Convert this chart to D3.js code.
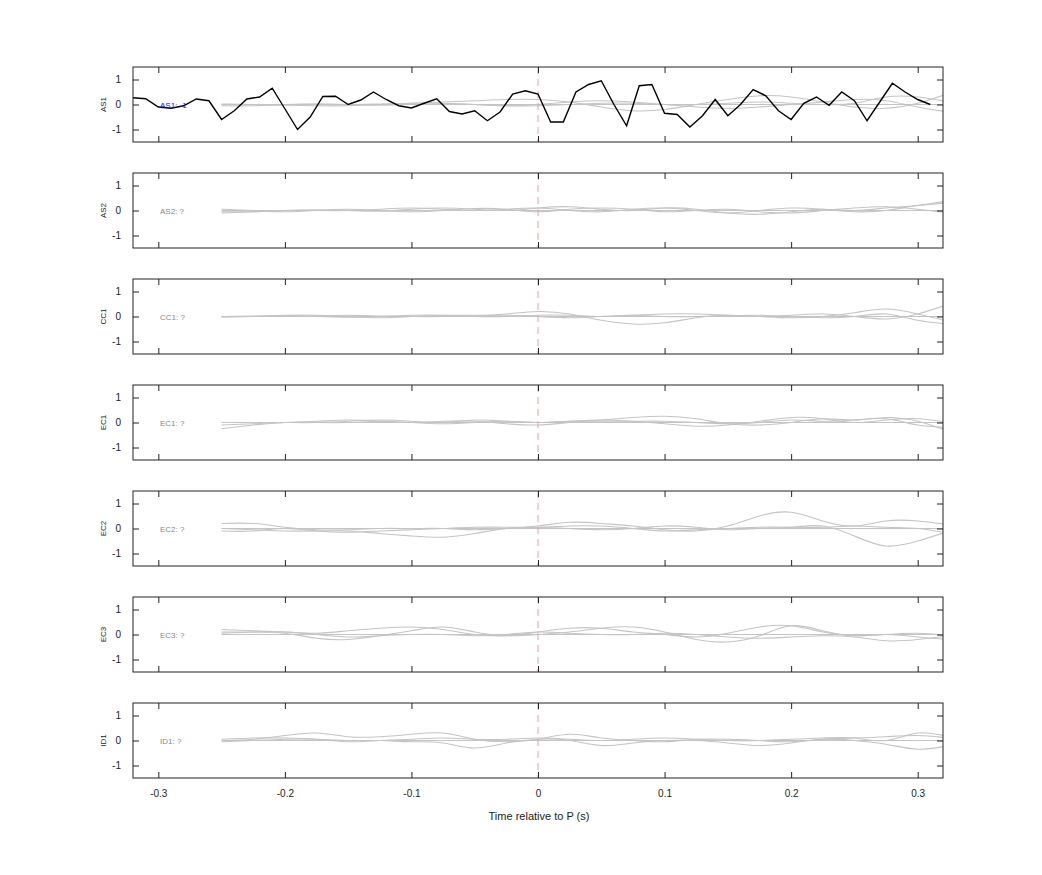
<!DOCTYPE html>
<html><head><meta charset="utf-8">
<script src="https://cdn.jsdelivr.net/npm/d3@7"></script>
<style>body{margin:0;background:#fff}</style></head>
<body><svg id="c" width="1042" height="875"></svg>
<script>
const channels = ["AS1","AS2","CC1","EC1","EC2","EC3","ID1"];
const panelLabels = ["AS1: -1","AS2: ?","CC1: ?","EC1: ?","EC2: ?","EC3: ?","ID1: ?"];
const xTicks = [-0.3,-0.2,-0.1,0,0.1,0.2,0.3];
const yTicks = [-1,0,1];
// black trace for AS1, times -0.32..0.31 step 0.01
const blackTimes = d3.range(-32,32).map(i=>i/100);
const blackValues = [0.27,0.23,-0.1,-0.15,-0.05,0.22,0.15,-0.6,-0.25,0.22,0.3,0.65,-0.17,-1.0,-0.5,0.32,0.33,0.0,0.18,0.5,0.2,-0.05,-0.14,0.05,0.23,-0.28,-0.38,-0.25,-0.65,-0.3,0.42,0.55,
 0.42,-0.7,-0.7,0.5,0.8,0.95,0.0,-0.85,0.75,0.8,-0.35,-0.4,-0.9,-0.45,0.2,-0.45,0.0,0.6,0.35,-0.25,-0.6,0.05,0.3,-0.03,0.5,0.15,-0.65,0.1,0.85,0.5,0.2,0.0];
// grey traces, times -0.25..0.325 step 0.025
const greyTimes = d3.range(0,24).map(i=>-0.25+i*0.025);
const greySeries = {
 AS1:[[0,0,0,0,0,0.02,0.05,0.1,0.15,0.2,0.2,0.1,-0.1,-0.25,-0.2,0,0.2,0.35,0.3,0.1,-0.1,-0.15,0.05,0.45],
      [0.02,0,-0.03,-0.05,-0.05,0,0.05,0.05,0,-0.05,0,0.1,0.15,0.1,0,-0.1,-0.15,-0.1,0,0.1,0.2,0.15,-0.1,-0.3],
      [-0.05,-0.05,0,0.03,0,-0.03,0,0.03,0,-0.05,-0.05,0,0.05,0.05,0,0,0.05,0.1,0.05,0,0.05,0.3,0.3,0.1],
      [0,0,0,0,0,0,0,0,0,0,0,0,0,0,0,0,0,0,0,0,0,0,0,0]],
 AS2:[[-0.05,-0.05,0,0.03,0,-0.03,0.05,0.1,0.05,0,0.1,0.15,0.05,0,0.1,0.05,-0.1,-0.15,-0.05,0.05,0,0.1,0.2,0.4],
      [0.05,0,-0.05,0,0.05,0,-0.05,0,0.08,0.05,-0.05,0.05,0.1,0.05,-0.05,0,0.05,-0.05,-0.1,0,0.1,0.15,0.05,-0.1],
      [-0.1,-0.05,0,0,0,0.05,0.1,0.05,0,0.05,0.1,0,-0.05,0.05,0.1,0,-0.1,0,0.1,0.05,-0.05,0,0.2,0.3],
      [0,0,0,0,0,0,0,0,0,0,0,0,0,0,0,0,0,0,0,0,0,0,0,0]],
 CC1:[[0,0.02,0.05,0.05,0,-0.05,0,0.05,0.05,0.1,0.2,0.1,-0.15,-0.3,-0.25,-0.05,0.05,0,0.05,0.1,0,-0.1,0.1,0.5],
      [-0.03,0,0.03,0,-0.03,0,0.05,0.05,0,0,0.05,0.05,0,0.05,0.1,0.1,0.05,0,-0.05,0,0.15,0.3,0.1,-0.2],
      [0,0,0,0.02,0.05,0.02,0,0,0.03,0.05,0,-0.05,0,0.05,0,0,0.03,0.05,0,-0.05,0,0.1,-0.15,-0.3],
      [0,0,0,0,0,0,0,0,0,0,0,0,0,0,0,0,0,0,0,0,0,0,0,0]],
 EC1:[[-0.25,-0.1,0,0.05,0.1,0.05,0,0.05,0.05,-0.05,-0.1,0,0.1,0.2,0.25,0.15,-0.05,-0.1,0,0.15,0.1,0.2,0.05,-0.35],
      [0,0,0,0,0.05,0.1,0.05,0,0.1,0.05,0,0.05,0.1,0.05,-0.05,-0.15,-0.1,0.05,0.2,0.15,0,0.1,0.15,0],
      [-0.1,-0.05,0,0,0,0.05,0,-0.05,0,0.05,0,0.05,0.05,0.05,0.05,0,-0.05,0,0.1,0.05,0.1,0.15,-0.1,-0.2],
      [0,0,0,0,0,0,0,0,0,0,0,0,0,0,0,0,0,0,0,0,0,0,0,0]],
 EC2:[[0.2,0.2,0.05,-0.05,-0.05,0,0,0,-0.05,0,0.1,0.25,0.2,0.1,-0.05,-0.1,0.1,0.5,0.65,0.3,0.1,0.3,0.3,0.15],
      [0,-0.05,-0.1,-0.1,-0.1,-0.2,-0.3,-0.35,-0.2,0,0.05,0,-0.05,0,0.1,0.05,-0.05,0,0.05,0.1,-0.3,-0.7,-0.5,-0.1],
      [-0.1,-0.1,0,-0.1,-0.15,-0.1,-0.05,0,0.05,0.05,0.05,0.1,0.1,0,-0.1,-0.05,0,0.05,0.05,0.05,0.1,0.05,0,-0.2],
      [0,0,0,0,0,0,0,0,0,0,0,0,0,0,0,0,0,0,0,0,0,0,0,0]],
 EC3:[[0.2,0.15,0.1,0.05,0.15,0.25,0.3,0.2,0,-0.05,0.1,0.25,0.25,0.1,0,-0.1,0.05,0.3,0.35,0.1,-0.05,0,0.05,-0.05],
      [0.05,0.1,0.05,-0.15,-0.2,-0.05,0.15,0.3,0.1,-0.05,0,0.1,0.25,0.3,0.1,-0.2,-0.3,-0.05,0.35,0.15,-0.05,0,-0.1,-0.2],
      [0.1,0.1,0.1,0,-0.1,-0.05,0,0,-0.05,0,0.1,0.05,0,0,0.05,0,-0.1,-0.15,-0.1,-0.05,-0.1,-0.25,-0.2,-0.05],
      [0,0,0,0,0,0,0,0,0,0,0,0,0,0,0,0,0,0,0,0,0,0,0,0]],
 ID1:[[0,0.05,0.2,0.3,0.15,0.15,0.25,0.3,0.05,-0.05,0.05,0.25,0.1,0,-0.05,0.05,0.05,0,-0.05,0.05,0.1,0.15,0.2,0.1],
      [-0.05,0,0.05,0.05,0,0,-0.05,-0.1,-0.3,-0.1,0.05,0,-0.2,-0.1,0,0,-0.1,-0.2,-0.1,0.05,0,-0.15,-0.35,-0.2],
      [0.05,0.1,0.1,0.05,-0.05,0,0.05,0.1,0.05,0.05,0.1,0.05,0,0.05,0.1,0.05,0,0,0.05,0.1,0.1,0,0.3,0.15],
      [0,0,0,0,0,0,0,0,0,0,0,0,0,0,0,0,0,0,0,0,0,0,0,0]]
};
const svg = d3.select("#c");
const x = d3.scaleLinear().domain([-0.32,0.32]).range([133,943]);
const H = 75, top0 = 67, step = 106;
const fmt = d=>String(d);
channels.forEach((ch,i)=>{
  const t = top0 + i*step;
  const y = d3.scaleLinear().domain([-1.5,1.5]).range([t+H,t]);
  svg.append("clipPath").attr("id","cp"+i).append("rect").attr("x",133).attr("y",t).attr("width",810).attr("height",H);
  const g = svg.append("g");
  const pg = g.append("g").attr("clip-path",`url(#cp${i})`);
  const line = d3.line().x(d=>x(d[0])).y(d=>y(d[1])).curve(d3.curveNatural);
  greySeries[ch].forEach(s=>{
    pg.append("path").attr("d",line(greyTimes.map((tt,k)=>[tt,s[k]])))
     .attr("fill","none").attr("stroke","#c4c4c4").attr("stroke-width",1.1);
  });
  pg.append("line").attr("x1",x(0)).attr("x2",x(0)).attr("y1",t).attr("y2",t+H)
   .attr("stroke","#e8a0a0").attr("stroke-dasharray","7,5").attr("stroke-width",1);
  if(i===0){
    pg.append("path").attr("d",d3.line().x(d=>x(d[0])).y(d=>y(d[1]))(blackTimes.map((tt,k)=>[tt,blackValues[k]])))
     .attr("fill","none").attr("stroke","#000").attr("stroke-width",1.4);
  }
  g.append("text").attr("x",160).attr("y",y(0)+3).attr("font-family","Liberation Sans, Arial").attr("font-size",8)
   .attr("fill",i===0?"#1010d0":"#888").text(panelLabels[i]);
  g.append("g").attr("transform",`translate(0,${t+H})`).call(d3.axisBottom(x).tickValues(xTicks).tickSize(-6).tickFormat(i===6?fmt:"").tickPadding(12))
   .call(a=>a.select(".domain").remove());
  g.append("g").attr("transform",`translate(0,${t})`).call(d3.axisTop(x).tickValues(xTicks).tickSize(-6).tickFormat(""))
   .call(a=>a.select(".domain").remove());
  g.append("g").attr("transform",`translate(133,0)`).call(d3.axisLeft(y).tickValues(yTicks).tickSize(-6).tickFormat(fmt).tickPadding(12))
   .call(a=>a.select(".domain").remove());
  g.append("g").attr("transform",`translate(943,0)`).call(d3.axisRight(y).tickValues(yTicks).tickSize(-6).tickFormat(""))
   .call(a=>a.select(".domain").remove());
  g.selectAll(".tick text").attr("font-family","Liberation Sans, Arial").attr("font-size",10).attr("fill","#222");
  g.selectAll(".tick line").attr("stroke","#222");
  g.append("rect").attr("x",133).attr("y",t).attr("width",810).attr("height",H).attr("fill","none").attr("stroke","#222").attr("stroke-width",1);
  g.append("text").attr("transform",`translate(106,${y(0)}) rotate(-90)`).attr("text-anchor","middle")
   .attr("font-family","Liberation Sans, Arial").attr("font-size",8).attr("fill","#222").text(ch);
});
svg.append("text").attr("x",539).attr("y",820).attr("text-anchor","middle").attr("font-family","Liberation Sans, Arial")
 .attr("font-size",11).attr("fill","#222").text("Time relative to P (s)");
</script></body></html>
